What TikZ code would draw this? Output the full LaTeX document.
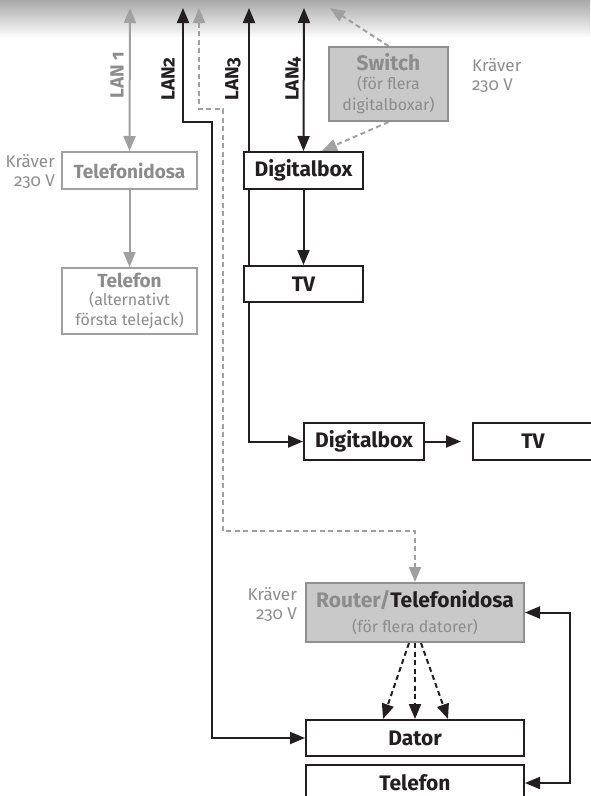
\documentclass[tikz,border=0pt]{standalone}
\usepackage{fontspec}
\setmainfont{Fira Sans}[Numbers=OldStyle]
\usepackage{tikz}
\usetikzlibrary{arrows.meta,positioning,backgrounds,calc}

\definecolor{inkblack}{HTML}{231F20}
\definecolor{linegray}{HTML}{A0A0A0}
\definecolor{textgray}{HTML}{8C8C8C}
\definecolor{boxfill}{HTML}{C9C9C9}

\newcommand{\subline}{\mdseries\fontsize{16}{19}\selectfont}

\tikzset{
    >={Triangle[length=15pt,width=12pt]},
    unitbox/.style={draw=inkblack, line width=2pt, fill=white, inner sep=0pt,
        text=inkblack, align=center, font=\fontsize{21}{23}\selectfont\bfseries},
    graybox/.style={unitbox, draw=linegray, text=textgray, font=\fontsize{19}{21}\selectfont\bfseries},
    shadedbox/.style={graybox, fill=boxfill, draw=linegray!90!black},
    blkline/.style={draw=inkblack, line width=2pt},
    gryline/.style={draw=linegray, line width=2pt},
    dashline/.style={dash pattern=on 5pt off 3.5pt},
    lanlabel/.style={rotate=90, inner sep=0pt, text=inkblack, font=\fontsize{19}{21}\selectfont\bfseries},
    powernote/.style={inner sep=0pt, text=textgray, font=\fontsize{17}{19}\selectfont}
}

\begin{document}
\begin{tikzpicture}[x=1pt, y=-1pt]
    \useasboundingbox (0,0) rectangle (590,796);

    % Boxes
    \node[graybox, minimum width=135pt, minimum height=37pt] (telbox) at (129.5,170.5) {Telefonidosa};
    \node[graybox, minimum width=135pt, minimum height=66pt] (tel) at (129.5,301)
        {Telefon\\[-3pt]{\subline (alternativt}\\[-1pt]{\subline första telejack)}};
    \node[unitbox, minimum width=119pt, minimum height=37pt] (dbox1) at (303.5,170.5) {Digitalbox};
    \node[unitbox, minimum width=119pt, minimum height=36pt] (tv1) at (303.5,284) {TV};
    \node[shadedbox, minimum width=119pt, minimum height=74pt, font=\fontsize{21}{22}\selectfont\bfseries] (switch) at (388.5,84)
        {Switch\\[-3pt]{\subline (för flera}\\[-1pt]{\subline digitalboxar)}};
    \node[unitbox, minimum width=120pt, minimum height=37pt] (dbox2) at (364,441.5) {Digitalbox};
    \node[unitbox, minimum width=120pt, minimum height=37pt] (tv2) at (533,441.5) {TV};
    \node[shadedbox, minimum width=218pt, minimum height=59pt, font=\fontsize{21}{23}\selectfont\bfseries] (router) at (415,612.5)
        {Router/\textcolor{inkblack}{Telefonidosa}\\[2pt]{\subline (för flera datorer)}};
    \node[unitbox, minimum width=218pt, minimum height=36pt] (dator) at (415,738) {Dator};
    \node[unitbox, minimum width=218pt, minimum height=36pt] (tel2) at (415,783) {Telefon};

    % Power notes
    \node[powernote, align=right, anchor=east] (power1) at (55,171) {Kräver\\230 V};
    \node[powernote, align=left, anchor=west] (power2) at (472,75) {Kräver\\230 V};
    \node[powernote, align=right, anchor=east] (power3) at (297,604) {Kräver\\230 V};

    % LAN ports
    \node[lanlabel, text=textgray] (lan1) at (117,75) {LAN 1};
    \node[lanlabel] (lan2) at (168,79) {LAN2};
    \node[lanlabel] (lan3) at (233,79) {LAN3};
    \node[lanlabel] (lan4) at (293,79) {LAN4};

    \coordinate (lan1top) at (130,8);
    \coordinate (lan2top) at (183,8);
    \coordinate (dashtop) at (199,8);
    \coordinate (lan3top) at (249,8);
    \coordinate (lan4top) at (304,8);
    \coordinate (swtop) at (330,8);

    \begin{scope}[on background layer]
        % Top shading
        \shade[top color=black!34, bottom color=white] (0,0) rectangle (590,38);

        % Cables
        \draw[gryline, <->] (lan1top) -- (telbox.north);
        \draw[gryline, ->] (telbox.south) -- (tel.north);
        \draw[blkline, <->] (lan2top) |- (212,122) |- (dator.west);
        \draw[gryline, dashline, <->] (dashtop) |- (223,109) |- (415,531) -- (router.north);
        \draw[blkline, <->] (lan3top) |- (dbox2.west);
        \draw[blkline, <->] (lan4top) -- (dbox1.north);
        \draw[blkline, ->] (dbox1.south) -- (tv1.north);
        \draw[gryline, dashline, ->] (switch.north) -- (swtop);
        \draw[gryline, dashline, ->] (switch.south) -- ([xshift=18.5pt]dbox1.north);
        \draw[blkline, ->, shorten >=11pt] (dbox2.east) -- (tv2.west);
        \draw[blkline, <->] (router.east) -- ++(45,0) |- (tel2.east);

        % Router to computers
        \foreach \a/\b in {-6/-32, 0/0, 6/33} {
            \draw[blkline, dashline, ->] ([xshift=\a pt]router.south) -- ([xshift=\b pt]dator.north);
        }
    \end{scope}
\end{tikzpicture}
\end{document}
